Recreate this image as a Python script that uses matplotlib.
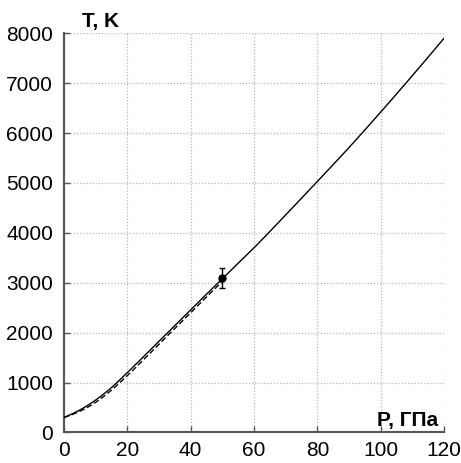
import matplotlib
matplotlib.use("Agg")
import matplotlib.pyplot as plt
import numpy as np

# Data
p_solid = [0, 5, 10, 15, 20, 30, 40, 50, 60, 70, 80, 90, 100, 110, 120]
t_solid = [300, 450, 650, 900, 1200, 1830, 2460, 3080, 3700, 4360, 5030, 5710, 6420, 7150, 7900]
p_dash = [0, 5, 10, 15, 20, 30, 40, 50]
t_dash = [300, 425, 605, 850, 1140, 1770, 2400, 3030]
p_exp = [50]
t_exp = [3100]
t_err = [200]

x_ticks = [0, 20, 40, 60, 80, 100, 120]
y_ticks = [0, 1000, 2000, 3000, 4000, 5000, 6000, 7000, 8000]

plt.rcParams['font.family'] = ['Liberation Sans', 'DejaVu Sans']

fig = plt.figure(figsize=(4.61, 4.63), dpi=100)
ax = fig.add_axes([0.1388, 0.0659, 0.8243, 0.8622])

def smooth(px, py, n=400):
    px = np.asarray(px, float); py = np.asarray(py, float)
    xs = np.linspace(px[0], px[-1], n)
    h = np.diff(px); d = np.diff(py) / h
    m = np.zeros_like(py)
    m[1:-1] = (d[:-1] * h[1:] + d[1:] * h[:-1]) / (h[:-1] + h[1:])
    m[0] = d[0] - (m[1] - d[0]) * 0.5
    m[-1] = d[-1] + (d[-1] - m[-2]) * 0.5
    idx = np.clip(np.searchsorted(px, xs) - 1, 0, len(h) - 1)
    t = (xs - px[idx]) / h[idx]
    h00 = 2*t**3 - 3*t**2 + 1; h10 = t**3 - 2*t**2 + t
    h01 = -2*t**3 + 3*t**2; h11 = t**3 - t**2
    ys = h00*py[idx] + h10*h[idx]*m[idx] + h01*py[idx+1] + h11*h[idx]*m[idx+1]
    return xs, ys

xs, ys = smooth(p_solid, t_solid)
ax.plot(xs, ys, color='black', lw=1.0, zorder=3)
xd, yd = smooth(p_dash, t_dash)
ax.plot(xd, yd, color='black', lw=1.0, ls=(0, (4, 2)), zorder=3)
ax.errorbar(p_exp, t_exp, yerr=t_err, fmt='o', color='black', ms=5,
            capsize=2.5, elinewidth=1.0, capthick=1.0, zorder=4)

ax.set_xlim(0, 120)
ax.set_ylim(0, 8000)
ax.set_xticks(x_ticks)
ax.set_yticks(y_ticks)
ax.grid(True, color='#b8b8b8', ls=(0, (1, 1.5)), lw=0.9)
ax.set_axisbelow(True)
for s in ['top', 'right']:
    ax.spines[s].set_visible(False)
for s in ['left', 'bottom']:
    ax.spines[s].set_color('#555555')
    ax.spines[s].set_linewidth(1.5)
ax.tick_params(direction='in', length=4, width=1, colors='#555555',
               labelcolor='black', labelsize=15)
ax.tick_params(axis='y', pad=8)
ax.tick_params(axis='x', pad=6)

fig.text(82 / 461, 1 - 22 / 463, 'T, K', fontsize=15, fontweight='bold',
         ha='left', va='center')
ax.text(0.984, 0.005, 'P, ГПа', transform=ax.transAxes, fontsize=15,
        fontweight='bold', ha='right', va='bottom')

fig.savefig('out.png', dpi=100)
